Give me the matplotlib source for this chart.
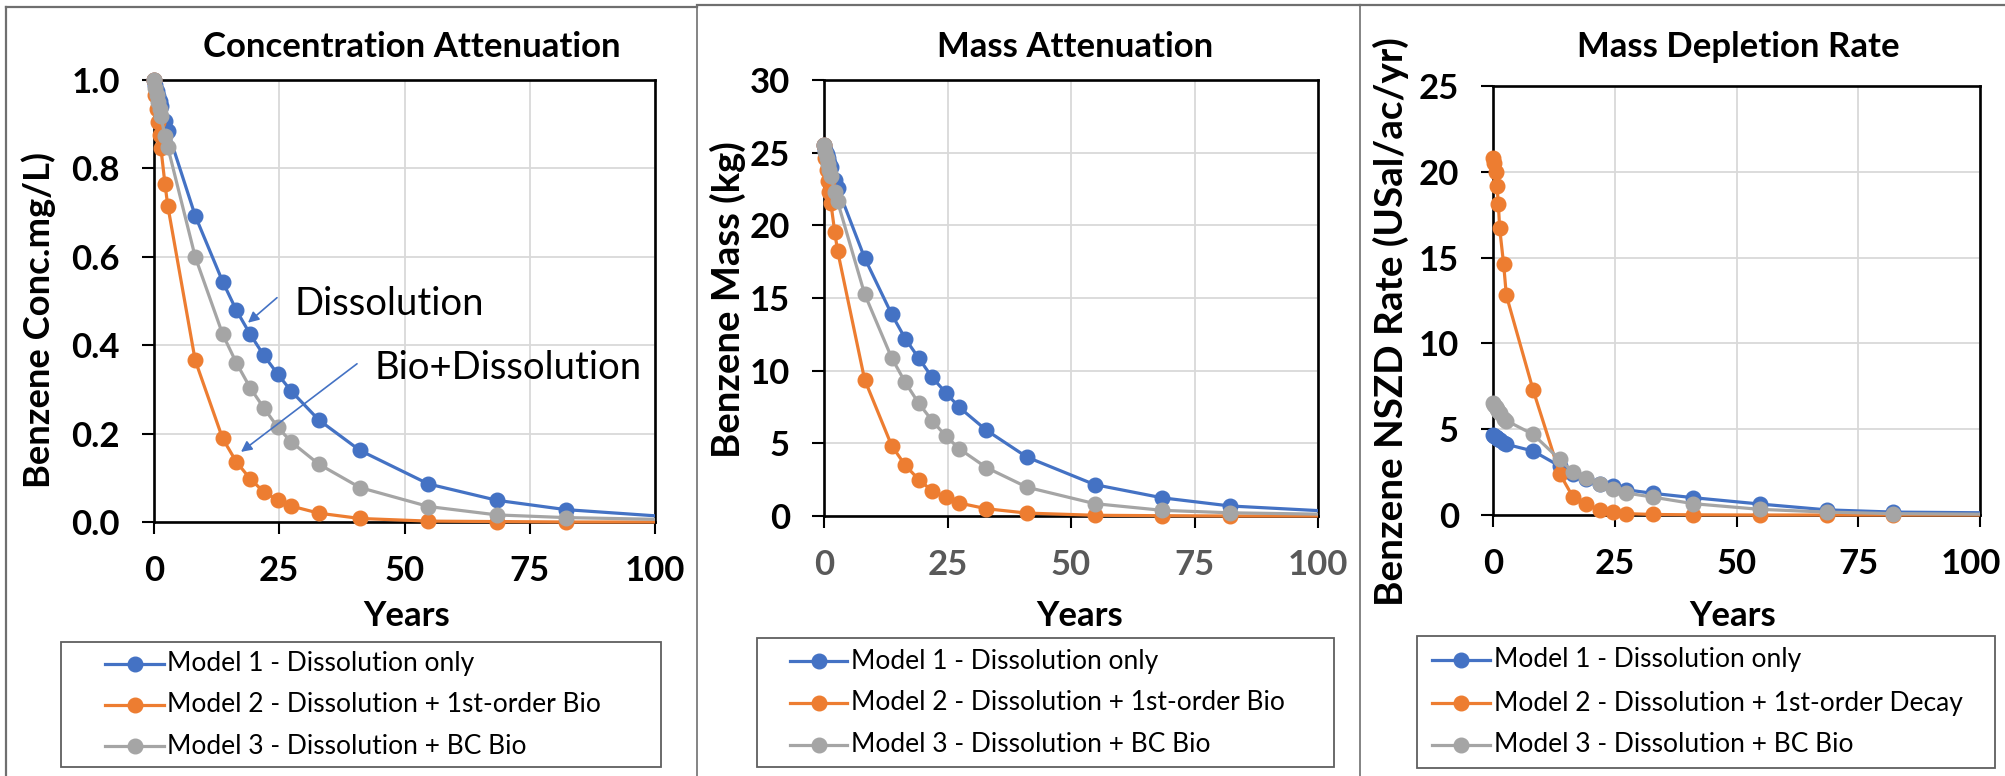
import matplotlib
matplotlib.use("Agg")
import matplotlib.pyplot as plt
from matplotlib.patches import Rectangle
from matplotlib.lines import Line2D
from matplotlib.transforms import ScaledTranslation

plt.rcParams['font.family'] = ['Lato', 'DejaVu Sans']

# ---------------- data ----------------
years = [0, 0.27, 0.55, 0.82, 1.10, 1.37, 2.19, 2.74, 8.22, 13.70, 16.44, 19.18,
         21.92, 24.66, 27.40, 32.88, 41.10, 54.79, 68.49, 82.19, 109.59]

conc_m1 = [1.000, 0.988, 0.976, 0.964, 0.952, 0.941, 0.907, 0.885, 0.693, 0.544, 0.479,
           0.425, 0.377, 0.335, 0.296, 0.231, 0.162, 0.086, 0.049, 0.028, 0.0065]
conc_m2 = [1.000, 0.967, 0.935, 0.905, 0.875, 0.846, 0.765, 0.716, 0.366, 0.189, 0.136,
           0.098, 0.068, 0.050, 0.036, 0.020, 0.008, 0.002, 0.001, 0.000, 0.000]
conc_m3 = [1.000, 0.983, 0.966, 0.950, 0.934, 0.918, 0.873, 0.849, 0.600, 0.425, 0.360,
           0.304, 0.258, 0.215, 0.181, 0.131, 0.078, 0.035, 0.016, 0.010, 0.004]

mass_m1 = [25.5, 25.2, 24.9, 24.6, 24.3, 24.0, 23.1, 22.6, 17.76, 13.88, 12.21, 10.86,
           9.53, 8.48, 7.47, 5.90, 4.05, 2.16, 1.25, 0.69, 0.20]
mass_m2 = [25.5, 24.66, 23.84, 23.08, 22.31, 21.57, 19.51, 18.26, 9.39, 4.84, 3.49, 2.51,
           1.72, 1.29, 0.89, 0.50, 0.20, 0.05, 0.02, 0.0, 0.0]
mass_m3 = [25.5, 25.07, 24.63, 24.23, 23.82, 23.41, 22.26, 21.65, 15.28, 10.88, 9.20, 7.75,
           6.55, 5.50, 4.62, 3.33, 1.98, 0.85, 0.39, 0.22, 0.08]

rate_m1 = [4.65, 4.59, 4.54, 4.48, 4.43, 4.37, 4.22, 4.12, 3.73, 2.85, 2.40, 2.11,
           1.80, 1.70, 1.47, 1.26, 1.01, 0.64, 0.30, 0.17, 0.11]
rate_m2 = [20.8, 20.5, 20.0, 19.2, 18.1, 16.7, 14.6, 12.8, 7.30, 2.41, 1.04, 0.62,
           0.30, 0.17, 0.08, 0.03, 0.01, 0.0, 0.0, 0.0, 0.0]
rate_m3 = [6.55, 6.42, 6.30, 6.18, 6.06, 5.94, 5.62, 5.50, 4.70, 3.24, 2.50, 2.17,
           1.82, 1.53, 1.28, 1.04, 0.66, 0.33, 0.17, 0.08, 0.03]

x_ticks = [0, 25, 50, 75, 100]
titles = ["Concentration Attenuation", "Mass Attenuation", "Mass Depletion Rate"]
ylabels = ["Benzene Conc.mg/L)", "Benzene Mass (kg)", "Benzene NSZD Rate (USal/ac/yr)"]
xlabel = "Years"
legend_sets = [
    ["Model 1 - Dissolution only", "Model 2 - Dissolution + 1st-order Bio", "Model 3 - Dissolution + BC Bio"],
    ["Model 1 - Dissolution only", "Model 2 - Dissolution + 1st-order Bio", "Model 3 - Dissolution + BC Bio"],
    ["Model 1 - Dissolution only", "Model 2 - Dissolution + 1st-order Decay", "Model 3 - Dissolution + BC Bio"],
]
colors = ["#4472C4", "#ED7D31", "#A5A5A5"]

# ---------------- layout helpers (pixels) ----------------
W, H = 2005, 776
fig = plt.figure(figsize=(W / 100, H / 100), dpi=100)


def fxp(x):
    return x / W


def fyp(y):
    return 1 - y / H


def axes_px(l, t, r, b):
    return fig.add_axes([fxp(l), fyp(b), (r - l) / W, (b - t) / H])


panels = [
    dict(box=(154, 80, 655, 522), series=[conc_m1, conc_m2, conc_m3], ylim=(0, 1.0),
         yticks=[0, 0.2, 0.4, 0.6, 0.8, 1.0], yfmt="{:.1f}",
         title_xy=(412, 57), ylab_xy=(39, 320), ylab_fs=26.2, xlab_xy=(407, 626), xtick_color="black",
         leg_box=(61, 642, 661, 767), leg_rows=(664, 705, 746), leg_handle=(105, 164), leg_text=167),
    dict(box=(824, 80, 1318, 516), series=[mass_m1, mass_m2, mass_m3], ylim=(0, 30),
         yticks=[0, 5, 10, 15, 20, 25, 30], yfmt="{:.0f}",
         title_xy=(1075, 57), ylab_xy=(728, 300), ylab_fs=27.5, xlab_xy=(1080, 626), xtick_color="#595959",
         leg_box=(757, 638, 1334, 767), leg_rows=(661, 703, 745), leg_handle=(790, 847), leg_text=851),
    dict(box=(1493, 86, 1980, 515), series=[rate_m1, rate_m2, rate_m3], ylim=(0, 25),
         yticks=[0, 5, 10, 15, 20, 25], yfmt="{:.0f}",
         title_xy=(1738, 57), ylab_xy=(1391, 322), ylab_fs=27.8, xlab_xy=(1733, 626), xtick_color="black",
         leg_box=(1417, 636, 1995, 768), leg_rows=(660, 703, 745), leg_handle=(1432, 1490), leg_text=1494),
]

BORDER = "#6f6f6f"
fig.add_artist(Line2D([fxp(6), fxp(6)], [fyp(7), fyp(H + 5)], color=BORDER, lw=1.6))
fig.add_artist(Line2D([fxp(6), fxp(697)], [fyp(7), fyp(7)], color=BORDER, lw=1.6))
fig.add_artist(Line2D([fxp(697), fxp(697)], [fyp(5), fyp(H + 5)], color=BORDER, lw=1.2))
fig.add_artist(Line2D([fxp(697), fxp(1360)], [fyp(5), fyp(5)], color=BORDER, lw=1.6))
fig.add_artist(Line2D([fxp(1360), fxp(1360)], [fyp(5), fyp(H + 5)], color=BORDER, lw=1.2))
fig.add_artist(Line2D([fxp(1360), fxp(W + 5)], [fyp(5), fyp(5)], color=BORDER, lw=1.6))

TICK_FS = 25
for i, p in enumerate(panels):
    ax = axes_px(*p["box"])
    ax.set_xlim(0, 100)
    ax.set_ylim(*p["ylim"])
    ax.set_xticks(x_ticks)
    ax.set_yticks(p["yticks"])
    ax.set_yticklabels([p["yfmt"].format(v) for v in p["yticks"]])
    ax.grid(True, color="#d9d9d9", lw=1.3, zorder=0)
    ax.set_axisbelow(True)
    for s in ax.spines.values():
        s.set_linewidth(1.9)
        s.set_color("black")
        s.set_zorder(2.5)
    ax.tick_params(axis="both", direction="out", length=8.5, width=1.5, labelsize=TICK_FS)
    ax.tick_params(axis="y", pad=16)
    ax.tick_params(axis="x", pad=15, labelcolor=p["xtick_color"])
    for lab in ax.get_xticklabels() + ax.get_yticklabels():
        lab.set_fontweight("bold")
    if i == 2:
        last = ax.get_xticklabels()[-1]
        last.set_transform(last.get_transform() +
                           ScaledTranslation(-0.09, 0, fig.dpi_scale_trans))

    clip = Rectangle((0, -0.1), 1, 1.2, transform=ax.transAxes, visible=False)
    ax.add_patch(clip)
    for j, (vals, c) in enumerate(zip(p["series"], colors)):
        ln, = ax.plot(years, vals, color=c, lw=2.3, zorder=3 + j * 0.1, solid_capstyle="round")
        ln.set_clip_path(clip)
        xs = [x for x in years if x <= 100]
        ys = [v for x, v in zip(years, vals) if x <= 100]
        ax.plot(xs, ys, linestyle="none", marker="o", ms=10.5, color=c, mec=c,
                zorder=3.05 + j * 0.1, clip_on=False)

    fig.text(fxp(p["title_xy"][0]), fyp(p["title_xy"][1]), titles[i], ha="center",
             va="baseline", fontsize=25, fontweight="bold")
    fig.text(fxp(p["ylab_xy"][0]), fyp(p["ylab_xy"][1]), ylabels[i], ha="center",
             va="center", rotation=90, fontsize=p["ylab_fs"], fontweight="bold")
    fig.text(fxp(p["xlab_xy"][0]), fyp(p["xlab_xy"][1]), xlabel, ha="center",
             va="baseline", fontsize=25, fontweight="bold")

    # legend box
    l, t, r, b = p["leg_box"]
    fig.add_artist(Rectangle((fxp(l), fyp(b)), (r - l) / W, (b - t) / H,
                             transform=fig.transFigure, facecolor="white",
                             edgecolor="#5f5f5f", lw=1.3))
    h0, h1 = p["leg_handle"]
    for k, yy in enumerate(p["leg_rows"]):
        fig.add_artist(Line2D([fxp(h0), fxp(h1)], [fyp(yy), fyp(yy)], color=colors[k], lw=2.3))
        fig.add_artist(Line2D([fxp((h0 + h1) / 2)], [fyp(yy)], color=colors[k], marker="o",
                              ms=10.5, linestyle="none"))
        fig.text(fxp(p["leg_text"]), fyp(yy), legend_sets[i][k], ha="left", va="center",
                 fontsize=19)

    if i == 0:
        def d(px, py):
            return ((px - 154) / 5.01, (522 - py) / 441.4)
        ax.text(*d(295, 315), "Dissolution", fontsize=27.5, ha="left", va="baseline", zorder=6)
        ax.text(*d(375, 379), "Bio+Dissolution", fontsize=27.5, ha="left", va="baseline", zorder=6)
        ax.annotate("", xy=d(248, 323), xytext=d(277, 298),
                    arrowprops=dict(arrowstyle="-|>", color=colors[0], lw=1.2,
                                    mutation_scale=16, shrinkA=0, shrinkB=0), zorder=6)
        ax.annotate("", xy=d(241, 452), xytext=d(357, 364),
                    arrowprops=dict(arrowstyle="-|>", color=colors[0], lw=1.2,
                                    mutation_scale=16, shrinkA=0, shrinkB=0), zorder=6)

fig.savefig("out.png", dpi=100)
